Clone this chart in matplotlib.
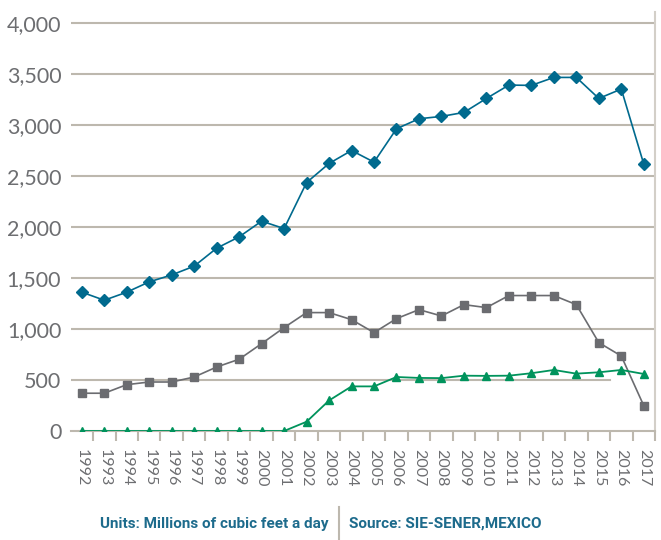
#!/usr/bin/env python3
"""Mexico natural gas production / imports line chart (1992-2017)."""
import matplotlib
matplotlib.use("Agg")
import matplotlib.pyplot as plt
from matplotlib.ticker import FuncFormatter, FixedLocator
import numpy as np

# --- Data (millions of cubic feet a day) ---
years = [str(y) for y in range(1992, 2018)]
blue_series = [1360, 1281, 1360, 1461, 1529, 1615, 1791, 1902, 2056, 1983,
               2434, 2621, 2748, 2634, 2961, 3059, 3082, 3121, 3258, 3389,
               3386, 3464, 3464, 3258, 3350, 2615]
gray_series = [370, 370, 454, 480, 480, 529, 627, 703, 856, 1013,
               1160, 1160, 1091, 964, 1101, 1189, 1127, 1238, 1209, 1327,
               1327, 1327, 1238, 866, 735, 248]
green_series = [0, 0, 0, 0, 0, 0, 0, 0, 0, 0,
                91, 299, 437, 437, 529, 520, 518, 542, 540, 542,
                566, 598, 562, 575, 598, 559]
y_ticks = [0, 500, 1000, 1500, 2000, 2500, 3000, 3500, 4000]

# --- Style ---
BLUE = "#006a8e"
GRAY = "#6b6c70"
GREEN = "#00935c"
GRID = "#bdb8ae"
LABEL = "#6d6e71"
FOOT = "#1d6b8c"

plt.rcParams["font.family"] = ["Lato", "DejaVu Sans"]

fig = plt.figure(figsize=(6.61, 5.40), dpi=100)
ax = fig.add_axes([71 / 661, 1 - 431 / 540, (655 - 71) / 661, (431 - 12) / 540])

x = np.arange(len(years))
ax.plot(x, blue_series, color=BLUE, marker="D", markersize=6.5, linewidth=1.2, zorder=4)
ax.plot(x, gray_series, color=GRAY, marker="s", markersize=5.5, linewidth=1.2, zorder=3)
ax.plot(x, green_series, color=GREEN, marker="^", markersize=5.5, linewidth=1.3, zorder=5)

ax.set_xlim(-0.48, 25.5)
ax.set_ylim(0, 4000 + 10.7 * 500 / 51)

# gridlines (the 500 line stops short in the original)
for v in y_ticks[2:]:
    ax.axhline(v, color=GRID, linewidth=1.5, xmax=0.997, zorder=1)
ax.axhline(500, color=GRID, linewidth=1.5, xmax=(610 - 71) / (655 - 71), zorder=1)

ax.yaxis.set_major_locator(FixedLocator(y_ticks))
ax.yaxis.set_major_formatter(FuncFormatter(lambda v, p: f"{int(v):,}"))
ax.tick_params(axis="y", length=0, pad=7, labelsize=15.5, labelcolor=LABEL)

ax.set_xticks(x)
ax.set_xticklabels(years, rotation=270, fontsize=11.5, color=LABEL)
ax.tick_params(axis="x", which="major", length=0, pad=13)
ax.xaxis.set_minor_locator(FixedLocator(np.arange(-0.5, 26, 1)))
ax.tick_params(axis="x", which="minor", length=7, width=1.5, color=GRID)

for side in ["top", "left"]:
    ax.spines[side].set_visible(False)
ax.spines["bottom"].set_color(GRID)
ax.spines["bottom"].set_linewidth(1.5)
ax.spines["right"].set_color("#d3cfc8")
ax.spines["right"].set_linewidth(1.5)

# --- Footer ---
foot_kw = dict(va="center", fontsize=11, fontweight="bold", color=FOOT,
               family=["Roboto", "DejaVu Sans"])
fig.text(329 / 661, 1 - 524 / 540, "Units: Millions of cubic feet a day", ha="right", **foot_kw)
fig.text(349 / 661, 1 - 524 / 540, "Source: SIE-SENER,MEXICO", ha="left", **foot_kw)
fig.add_artist(plt.Line2D([339 / 661, 339 / 661], [1 - 507 / 540, 0], color=GRID,
                          linewidth=1.5))

fig.savefig("out.png", dpi=100)
